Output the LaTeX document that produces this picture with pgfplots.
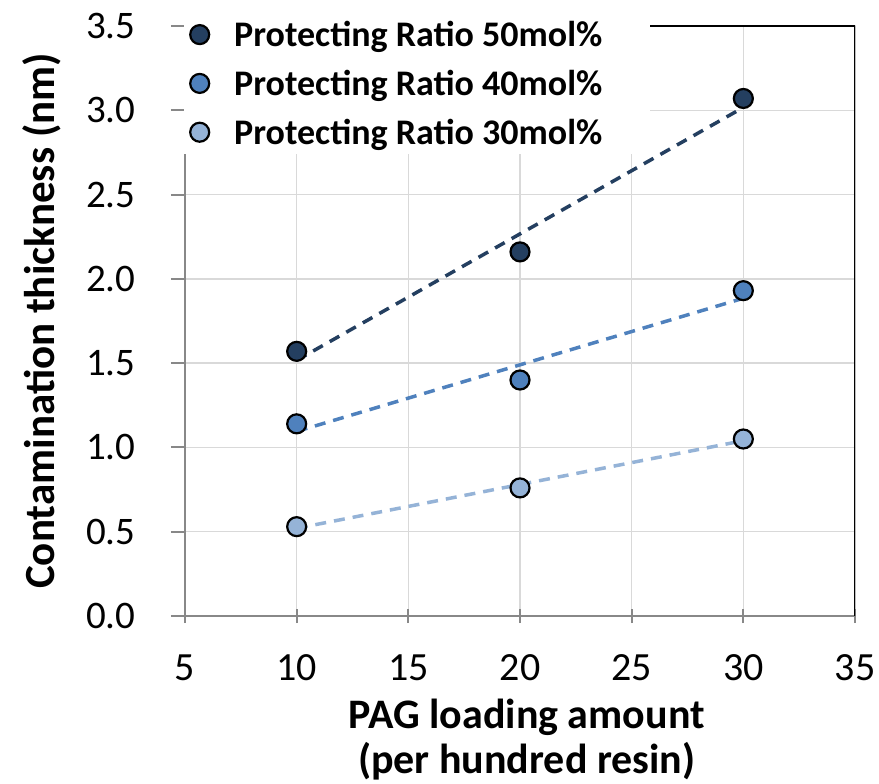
\documentclass[border=0pt]{standalone}
\usepackage{pgfplots}
\usepackage{pgfplotstable}
\pgfplotsset{compat=1.18}
\usepackage{fontspec}
\setmainfont{Carlito}

\definecolor{darkblue}{HTML}{243F60}
\definecolor{midblue}{HTML}{4F81BD}
\definecolor{lightblue}{HTML}{95B3D7}
\definecolor{gridgray}{HTML}{D9D9D9}
\definecolor{spinegray}{HTML}{888888}

% contamination thickness (nm) vs PAG loading (phr)
\pgfplotstableread{
x y
10 1.57
20 2.16
30 3.07
}\ratiofifty
\pgfplotstableread{
x y
10 1.14
20 1.40
30 1.93
}\ratioforty
\pgfplotstableread{
x y
10 0.53
20 0.76
30 1.05
}\ratiothirty

\begin{document}
\begin{tikzpicture}
\begin{axis}[
  name=ax,
  scale only axis,
  width=670pt, height=590pt,
  xmin=5, xmax=35, ymin=0, ymax=3.5,
  xtick={5,10,...,35},
  ytick={0,0.5,...,3.5},
  axis x line*=bottom, axis y line*=left,
  hide obscured x ticks=false, hide obscured y ticks=false,
  axis line style={spinegray, line width=2.5pt},
  xtick align=center, ytick align=outside,
  major tick length=14pt,
  tick style={spinegray, line width=2pt},
  xmajorgrids, ymajorgrids,
  major grid style={gridgray, line width=1.5pt},
  /pgf/number format/assume math mode=true,
  xticklabel style={font=\fontsize{40}{42}\selectfont, anchor=center, yshift=-45pt},
  yticklabel style={font=\fontsize{39}{41}\selectfont, anchor=east, xshift=-32pt,
    /pgf/number format/.cd, fixed, fixed zerofill, precision=1},
  xlabel={PAG loading amount\\(per hundred resin)},
  xlabel style={font=\fontsize{42}{45}\selectfont\bfseries, align=center,
    at={(rel axis cs:0.51,0)}, anchor=center, yshift=-124pt},
  ylabel={Contamination thickness (nm)},
  ylabel style={font=\fontsize{43}{45}\selectfont\bfseries,
    at={(rel axis cs:-0.2134,0.5)}, anchor=center},
  legend style={draw=none, fill=white, at={(rel axis cs:0,1)}, anchor=north west,
    xshift=-1pt, yshift=13pt, inner xsep=6pt, inner ysep=6pt,
    font=\fontsize{36}{38}\selectfont\bfseries,
    row sep=18pt,
    /tikz/every odd column/.append style={column sep=23pt}},
  legend cell align=left,
  legend image code/.code={\draw[#1] plot coordinates {(0pt,0pt)};},
  every axis plot/.append style={mark size=9.5pt},
]
\addplot[only marks, mark=*, mark options={fill=darkblue, draw=black, line width=2.2pt}]
  table[x=x, y=y] {\ratiofifty};
\addlegendentry{\makebox[408pt][l]{Protecting Ratio 50mol\%}}
\addplot[only marks, mark=*, mark options={fill=midblue, draw=black, line width=2.2pt}]
  table[x=x, y=y] {\ratioforty};
\addlegendentry{\makebox[408pt][l]{Protecting Ratio 40mol\%}}
\addplot[only marks, mark=*, mark options={fill=lightblue, draw=black, line width=2.2pt}]
  table[x=x, y=y] {\ratiothirty};
\addlegendentry{\makebox[408pt][l]{Protecting Ratio 30mol\%}}

% linear trend lines
\addplot[forget plot, no marks, darkblue, line width=3.5pt, dash pattern=on 11pt off 8pt]
  table[x=x, y={create col/linear regression={y=y}}] {\ratiofifty};
\addplot[forget plot, no marks, midblue, line width=3.5pt, dash pattern=on 11pt off 8pt]
  table[x=x, y={create col/linear regression={y=y}}] {\ratioforty};
\addplot[forget plot, no marks, lightblue, line width=3.5pt, dash pattern=on 11pt off 8pt]
  table[x=x, y={create col/linear regression={y=y}}] {\ratiothirty};

% plot-area frame on the top and right
\draw[black, line width=2.5pt] (rel axis cs:0,1) -- (rel axis cs:1,1) -- (rel axis cs:1,0);
\end{axis}
\pgfresetboundingbox
\path ([shift={(-185pt,-167pt)}]ax.south west) rectangle ([shift={(24pt,26pt)}]ax.north east);
\end{tikzpicture}
\end{document}
